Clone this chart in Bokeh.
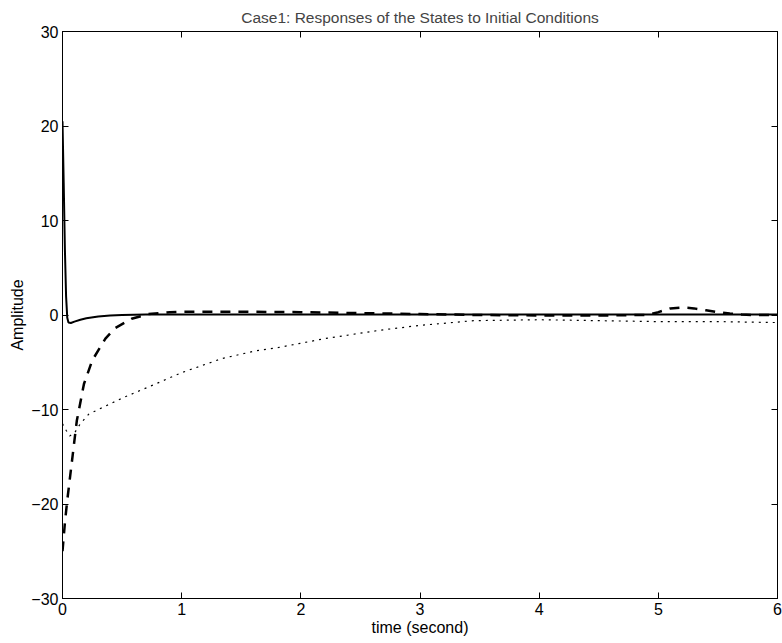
from bokeh.plotting import figure
from bokeh.models import LinearAxis, FixedTicker, Range1d
from bokeh.embed import file_html
from bokeh.resources import INLINE

# ---- data ----
t_solid = [0, 0.01, 0.02, 0.03, 0.04, 0.05, 0.07, 0.1, 0.15, 0.2, 0.3, 0.4, 0.5, 0.7, 1.0, 2.0, 3.0, 4.0, 5.0, 6.0]
y_solid = [20.5, 14.0, 7.0, 2.0, -0.3, -0.8, -0.85, -0.7, -0.5, -0.35, -0.15, -0.05, 0.0, 0.05, 0.05, 0.05, 0.05, 0.05, 0.05, 0.05]

t_dashed = [0, 0.02, 0.04, 0.08, 0.12, 0.18, 0.25, 0.36, 0.44, 0.58, 0.72, 0.9, 1.0, 1.5, 2.0, 2.5, 3.0, 3.5, 4.0, 4.5,
            4.9, 5.0, 5.1, 5.2, 5.3, 5.4, 5.5, 5.6, 5.7, 5.8, 6.0]
y_dashed = [-25.0, -22.0, -19.6, -15.4, -11.2, -7.3, -4.8, -2.5, -1.4, -0.4, 0.1, 0.3, 0.35, 0.35, 0.3, 0.2, 0.1, 0.0, -0.05, -0.05,
            0.0, 0.3, 0.7, 0.8, 0.7, 0.5, 0.3, 0.15, 0.05, 0.0, 0.0]

t_dotted = [0, 0.03, 0.06, 0.1, 0.15, 0.22, 0.3, 0.5, 0.78, 1.0, 1.34, 1.62, 1.83, 2.2, 2.67, 3.0, 3.45, 4.0, 4.5, 5.0, 5.5, 6.0]
y_dotted = [-11.5, -12.2, -12.8, -12.5, -11.5, -10.5, -10.0, -8.8, -7.3, -6.1, -4.6, -3.8, -3.4, -2.5, -1.6, -1.1, -0.6, -0.5, -0.6, -0.7, -0.7, -0.8]

x_ticks = [0, 1, 2, 3, 4, 5, 6]
x_tick_labels = ["0", "1", "2", "3", "4", "5", "6"]
y_ticks = [-30, -20, -10, 0, 10, 20, 30]
y_tick_labels = ["\u221230", "\u221220", "\u221210", "0", "10", "20", "30"]

FONT = "Liberation Sans"

p = figure(width=782, height=643, output_backend="svg", toolbar_location=None,
           x_range=Range1d(0, 6), y_range=Range1d(-30, 30),
           min_border_left=62, min_border_right=5, min_border_top=31, min_border_bottom=45,
           title="Case1: Responses of the States to Initial Conditions")

p.title.text_font = FONT
p.title.text_font_size = "15.5px"
p.title.text_font_style = "normal"
p.title.align = "center"
p.title.standoff = 12

p.xgrid.visible = False
p.ygrid.visible = False
p.outline_line_color = "black"
p.outline_line_width = 1
p.background_fill_color = "white"
p.border_fill_color = "white"

def style_axis(ax, ticks, labels, show_labels=True):
    ax.ticker = FixedTicker(ticks=ticks)
    ax.minor_tick_line_color = None
    ax.major_tick_in = 6
    ax.major_tick_out = 0
    ax.axis_line_color = "black"
    ax.major_tick_line_color = "black"
    ax.major_label_text_font = FONT
    ax.major_label_text_color = "black"
    if show_labels:
        ax.major_label_overrides = {tk: lb for tk, lb in zip(ticks, labels)}
        ax.major_label_text_font_size = "16px"
        ax.major_label_standoff = 4
    else:
        ax.major_label_overrides = {tk: "" for tk in ticks}
        ax.major_label_text_font_size = "1px"
        ax.major_label_standoff = 0

style_axis(p.xaxis[0], x_ticks, x_tick_labels)
style_axis(p.yaxis[0], y_ticks, y_tick_labels)
p.xaxis[0].axis_label = "time (second)"
p.yaxis[0].axis_label = "Amplitude"
for ax in (p.xaxis[0], p.yaxis[0]):
    ax.axis_label_text_font = FONT
    ax.axis_label_text_font_size = "16px"
    ax.axis_label_text_font_style = "normal"
    ax.axis_label_text_color = "black"
p.xaxis[0].axis_label_standoff = 1
p.yaxis[0].axis_label_standoff = 2

top = LinearAxis()
style_axis(top, x_ticks, x_tick_labels, show_labels=False)
p.add_layout(top, "above")
right = LinearAxis()
style_axis(right, y_ticks, y_tick_labels, show_labels=False)
p.add_layout(right, "right")

p.line(t_dotted, y_dotted, line_color="black", line_width=1.2, line_dash="2 5")
p.line(t_dashed, y_dashed, line_color="black", line_width=2.5, line_dash="10 8")
p.line(t_solid, y_solid, line_color="black", line_width=2)

open("out.html", "w").write(file_html(p, INLINE))
